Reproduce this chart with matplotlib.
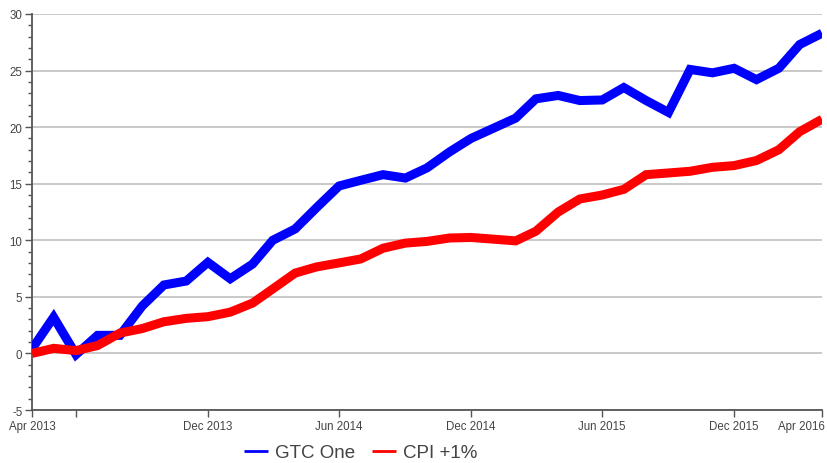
import matplotlib

matplotlib.use("Agg")
import matplotlib.pyplot as plt  # noqa: E402
import matplotlib.dates as mdates  # noqa: E402
import matplotlib.transforms as mtransforms  # noqa: E402
import numpy as np  # noqa: E402
import pandas as pd  # noqa: E402

# monthly cumulative % change, Apr 2013 .. Apr 2016
MONTHS = pd.date_range("2013-04-01", "2016-04-01", freq="MS")
GTC_ONE = [0.4, 3.2, -0.1, 1.6, 1.6, 4.2, 6.05, 6.4, 8.05, 6.6, 7.9, 10.0,
           11.0, 12.9, 14.8, 15.3, 15.8, 15.5, 16.4, 17.8, 19.0, 19.9, 20.8, 22.5,
           22.8, 22.35, 22.4, 23.5, 22.35, 21.3, 25.1, 24.8, 25.2, 24.2, 25.2, 27.3,
           28.3]
CPI_PLUS1 = [0.0, 0.45, 0.25, 0.7, 1.8, 2.2, 2.8, 3.1, 3.25, 3.65, 4.45, 5.7,
             7.1, 7.65, 8.0, 8.35, 9.3, 9.75, 9.9, 10.2, 10.25, 10.1, 9.95, 10.8,
             12.5, 13.65, 14.0, 14.5, 15.8, 15.95, 16.1, 16.45, 16.6, 17.05, 18.0, 19.6,
             20.7]
SERIES = {"GTC One": (GTC_ONE, "#0000ff"), "CPI +1%": (CPI_PLUS1, "#ff0000")}
TICK_DATES = ["2013-04-01", "2013-06-01", "2013-12-01", "2014-06-01",
              "2014-12-01", "2015-06-01", "2015-12-01", "2016-04-01"]
TICK_LABELS = ["Apr 2013", "", "Dec 2013", "Jun 2014", "Dec 2014",
               "Jun 2015", "Dec 2015", "Apr 2016"]

plt.rcParams["font.family"] = ["Liberation Sans", "DejaVu Sans"]
plt.rcParams["axes.unicode_minus"] = False
TXT = "#444444"
AX = "#555555"


def main() -> None:
    fig = plt.figure(figsize=(8.27, 4.64), dpi=100)
    ax = fig.add_axes([0.0387, 0.1142, 0.9553, 0.8535])

    for name, (vals, col) in SERIES.items():
        ax.plot(MONTHS, vals, color=col, lw=6.5, label=name,
                solid_joinstyle="miter", solid_capstyle="butt", zorder=3)

    ax.set_xlim(MONTHS[0], MONTHS[-1])
    ax.set_ylim(-5, 30)
    ax.set_yticks(np.arange(-5, 31, 5))
    ax.set_yticks(np.arange(-5, 31, 1), minor=True)
    ax.set_xticks(mdates.date2num(pd.to_datetime(TICK_DATES)))
    ax.set_xticklabels(TICK_LABELS)

    ax.grid(axis="y", which="major", color="#c0c0c0", lw=1.2, zorder=0)
    for s in ("top", "right"):
        ax.spines[s].set_visible(False)
    for s in ("left", "bottom"):
        ax.spines[s].set_color(AX)
        ax.spines[s].set_linewidth(1.3)
    ax.tick_params(axis="both", which="major", length=5, width=1, color=AX,
                   labelsize=8.3, labelcolor=TXT, pad=2)
    ax.tick_params(axis="y", which="minor", length=3, width=1, color=AX)
    ax.tick_params(axis="x", which="minor", length=0)

    # last label pushed left so it stays on the canvas
    last = ax.get_xticklabels()[-1]
    last.set_ha("right")
    last.set_transform(last.get_transform()
                       + mtransforms.ScaledTranslation(0.03, 0, fig.dpi_scale_trans))

    fig.legend(loc="center", bbox_to_anchor=(0.436, 0.022), ncol=2,
               frameon=False, fontsize=13.5, handlelength=1.3,
               handletextpad=0.35, columnspacing=0.9, labelcolor=TXT)
    for h in fig.legends[0].legend_handles:
        h.set_linewidth(2)

    fig.savefig("out.png", dpi=100)


if __name__ == "__main__":
    main()
